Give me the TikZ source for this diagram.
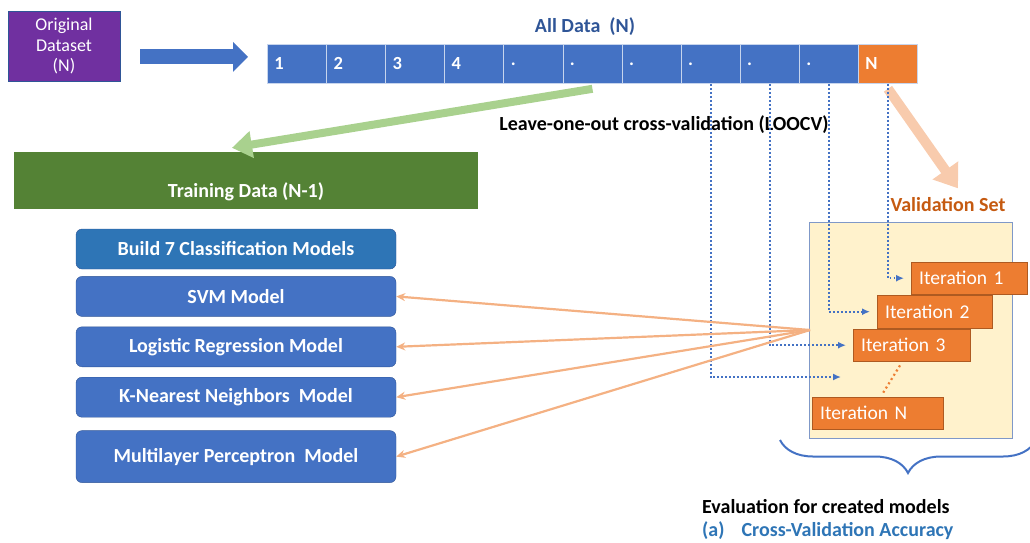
\documentclass[tikz,border=0pt]{standalone}
\usepackage{fontspec}
\setmainfont{Carlito}
\usetikzlibrary{arrows.meta,positioning,calc,decorations.pathreplacing}

\definecolor{dsPurple}{HTML}{7030A0}
\definecolor{dsBlue}{HTML}{4472C4}
\definecolor{dsBorder}{HTML}{2F5597}
\definecolor{buildBlue}{HTML}{2E75B6}
\definecolor{trainGreen}{HTML}{548235}
\definecolor{lightGreen}{HTML}{A9D18E}
\definecolor{dsOrange}{HTML}{ED7D31}
\definecolor{itBorder}{HTML}{AE5A21}
\definecolor{peach}{HTML}{F8CBAD}
\definecolor{fanOrange}{HTML}{F4B183}
\definecolor{cream}{HTML}{FFF2CC}
\definecolor{creamBorder}{HTML}{7F98C8}
\definecolor{valText}{HTML}{C55A11}

\begin{document}
\begin{tikzpicture}[x=1pt,y=-1pt,
  cell/.style={draw=white!70!dsBlue, fill=dsBlue, line width=0.8pt, anchor=north west,
    minimum height=39pt, text width=45.1pt, inner xsep=7pt, align=left, text=white,
    font=\fontsize{18.5}{18.5}\selectfont\bfseries},
  model/.style={draw=dsBorder, fill=dsBlue, rounded corners=6pt, minimum width=320pt,
    minimum height=40pt, text=white, font=\fontsize{20}{20}\selectfont\bfseries},
  iter/.style={draw=itBorder, fill=dsOrange, anchor=north west, minimum height=32pt,
    inner xsep=8pt, align=left, text=white, font=\fontsize{19.5}{19.5}\selectfont},
  fan/.style={draw=fanOrange, line width=2.2pt, -{Stealth[length=9pt,width=8pt]}},
  dots/.style={draw=dsBlue, line width=1.8pt, dash pattern=on 1.8pt off 2.2pt,
    -{Latex[length=8pt,width=7pt]}, shorten >=7pt},
]
\useasboundingbox (0,0) rectangle (1030,542);

% source data and the full set
\node[draw=dsBorder, fill=dsPurple, minimum width=112pt, minimum height=70pt,
  align=center, text=white, font=\fontsize{18}{20.5}\selectfont] (orig) at (64,46)
  {Original\\Dataset\\(N)};

\def\cw{59.1}
\foreach \t [count=\i] in {1,2,3,4,.,.,.,.,.,.}
  \node[cell] (c\i) at ({267+(\i-1)*\cw},44) {\t};
\node[cell, fill=dsOrange] (c11) at ({267+10*\cw},44) {N};

\node[text=dsBorder, font=\fontsize{20}{20}\selectfont\bfseries] (all) at (585,27) {All Data~~(N)};

\draw[dsBlue, line width=15pt, -{Triangle[width=29pt,length=15pt]},
  shorten <=20pt, shorten >=19pt] (orig.east |- c1.west) ++(0,-7) coordinate (ab)
  (ab) -- (ab -| c1.west);

% training side
\node[fill=trainGreen, minimum width=464pt, text height=41pt, text depth=8pt, inner ysep=4pt,
  text=white, font=\fontsize{20}{20}\selectfont\bfseries] (train) at (246,180.5)
  {Training Data (N-1)};

\draw[lightGreen, line width=8pt, -{Triangle[width=26pt,length=20pt]}]
  ([yshift=-5pt]c6.south) -- ([xshift=-14pt,yshift=4pt]train.north);

\node[model, fill=buildBlue] (build) at (236,249) {Build 7 Classification Models};
\node[model, below=7pt of build] (svm) {SVM Model};
\node[model, below=10pt of svm] (lr) {Logistic Regression Model};
\node[model, below=10pt of lr] (knn) {K-Nearest Neighbors~~Model};
\node[model, below=13pt of knn, minimum height=52pt] (mlp) {Multilayer Perceptron~~Model};

\node[font=\fontsize{20}{20}\selectfont\bfseries] (loocv) at (664,125)
  {Leave-one-out cross-validation (LOOCV)};

% validation side
\node[font=\fontsize{20}{20}\selectfont\bfseries, text=valText] (vset) at (948,205) {Validation Set};
\draw[peach, line width=10pt, -{Triangle[width=30pt,length=22pt]}]
  ([yshift=-5pt]c11.south) -- ([xshift=10pt,yshift=6pt]vset.north);

\node[draw=creamBorder, fill=cream, line width=0.8pt, anchor=north west,
  minimum width=203pt, minimum height=216pt] (valbox) at (809,222) {};

\node[iter, text width=100pt] (it1) at (911,262) {Iteration 1};
\node[iter, text width=99pt, minimum height=33pt] (it2) at (877,295) {Iteration 2};
\node[iter, text width=101pt] (it3) at (853,329) {Iteration 3};
\node[iter, text width=115pt] (itN) at (812,397) {Iteration N};
\draw[dsOrange, line width=2.2pt, dash pattern=on 2pt off 3pt]
  ($(it3.south west)+(47,4)$) -- ($(itN.north west)+(71,-4)$);

\coordinate (itx) at (848,377);
\draw[dots] (c11.south) |- (it1.west);
\draw[dots] (c10.south) |- (it2.west);
\draw[dots] (c9.south) |- (it3.west);
\draw[dots] (c8.south) |- (itx);

% results go back to every model
\coordinate (hub) at (810,330);
\foreach \m in {svm,lr,knn,mlp}
  \draw[fan] (hub) -- (\m.east);

\draw[dsBlue, line width=2pt, decorate, decoration={brace, mirror, amplitude=33pt}]
  (780,440) -- (1036,440);

\node[anchor=west, inner sep=0pt, font=\fontsize{20}{20}\selectfont\bfseries] (eval) at (702,507)
  {Evaluation for created models};
\node[anchor=west, inner sep=0pt, text=buildBlue, font=\fontsize{20}{20}\selectfont\bfseries]
  (acc) at (702,531) {(a)\hspace{17pt}Cross-Validation Accuracy};

\end{tikzpicture}
\end{document}
